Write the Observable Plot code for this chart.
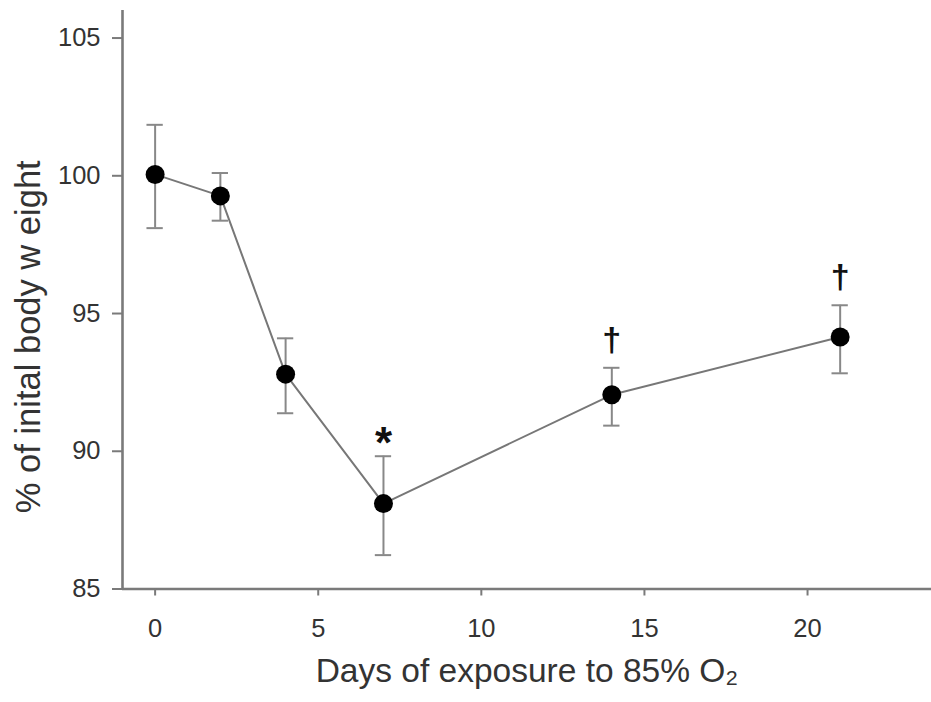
<!DOCTYPE html>
<html>
<head>
<meta charset="utf-8">
<script src="https://cdn.jsdelivr.net/npm/d3@7"></script>
<script src="https://cdn.jsdelivr.net/npm/@observablehq/plot@0.6"></script>
<style>
  html, body { margin: 0; padding: 0; background: #fff; }
  #chart svg { display: block; }
</style>
</head>
<body>
<div id="chart"></div>
<script>
const days = [0, 2, 4, 7, 14, 21];
const meanWeight = [100.05, 99.27, 92.8, 88.1, 92.05, 94.15];
const errLow = [98.1, 98.37, 91.38, 86.23, 90.93, 92.83];
const errHigh = [101.85, 100.1, 94.1, 89.82, 93.03, 95.3];

const starDays = [7];
const daggerDays = [14, 21];

const xTicks = [0, 5, 10, 15, 20];
const yTicks = [85, 90, 95, 100, 105];

const xLabel = "Days of exposure to 85% O₂";
const yLabel = "% of inital body w eight";

const data = days.map((d, i) => ({day: d, mean: meanWeight[i], lo: errLow[i], hi: errHigh[i]}));
const topOf = d => errHigh[days.indexOf(d)];

const FONT = "Liberation Sans, Arial, sans-serif";
const TXT = "#333";
const AX = "#7a7a7a";
const capHalf = 0.25;

const chart = Plot.plot({
  width: 931,
  height: 702,
  marginLeft: 122,
  marginRight: 0,
  marginTop: 10,
  marginBottom: 113.5,
  style: {fontFamily: FONT, color: TXT, background: "white"},
  x: {domain: [-1, 23.8]},
  y: {domain: [85, 106]},
  marks: [
    // axis lines
    Plot.ruleX([-1], {y1: 85, y2: 106, stroke: AX, strokeWidth: 2.6}),
    Plot.ruleY([85], {x1: -1, x2: 23.8, stroke: AX, strokeWidth: 2.6}),
    Plot.axisY({ticks: yTicks, tickSize: 10, tickPadding: 12, fontSize: 25.5, label: null, stroke: AX, strokeWidth: 2, color: TXT}),
    Plot.axisX({ticks: xTicks, tickSize: 7, tickPadding: 23, fontSize: 25.5, label: null, stroke: AX, strokeWidth: 2, color: TXT}),
    // axis titles
    Plot.text([xLabel], {frameAnchor: "bottom", dy: 82, fontSize: 33.5, fill: TXT, lineAnchor: "middle", textAnchor: "middle"}),
    Plot.text([yLabel], {frameAnchor: "left", dx: -94, dy: 37, rotate: -90, fontSize: 34.5, fill: TXT, lineAnchor: "middle", textAnchor: "middle"}),
    // error bars
    Plot.ruleX(data, {x: "day", y1: "lo", y2: "hi", stroke: "#888", strokeWidth: 2}),
    Plot.ruleY(data, {y: "hi", x1: d => d.day - capHalf, x2: d => d.day + capHalf, stroke: "#888", strokeWidth: 2}),
    Plot.ruleY(data, {y: "lo", x1: d => d.day - capHalf, x2: d => d.day + capHalf, stroke: "#888", strokeWidth: 2}),
    // line
    Plot.line(data, {x: "day", y: "mean", stroke: "#777", strokeWidth: 2}),
    // points
    Plot.dot(data, {x: "day", y: "mean", r: 9.5, fill: "black", stroke: "none"}),
    // significance marks
    Plot.text(starDays, {x: d => d, y: topOf, text: () => "*", dy: -12, fontSize: 44, fill: "#111", fontWeight: "bold", lineAnchor: "middle"}),
    Plot.text(daggerDays, {x: d => d, y: topOf, text: () => "†", dy: -28, fontSize: 34, fill: "#111", fontWeight: "bold", lineAnchor: "middle"})
  ]
});

document.getElementById("chart").appendChild(chart);
</script>
</body>
</html>
